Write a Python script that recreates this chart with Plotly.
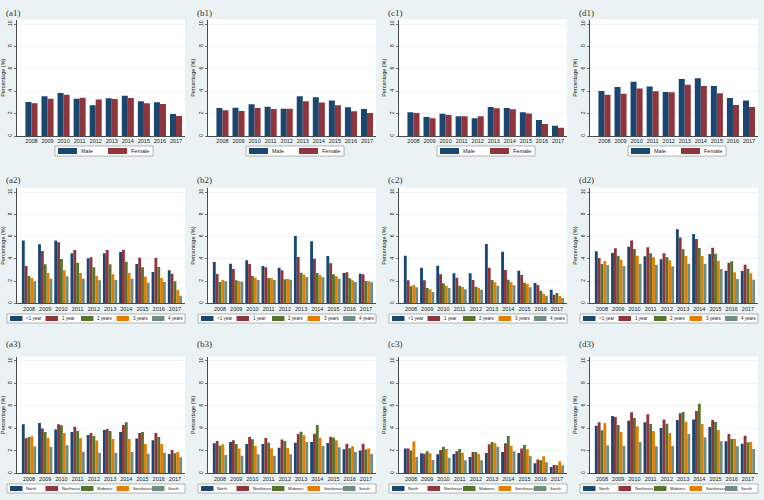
import plotly.graph_objects as go

W, H = 764, 500

years = [2008, 2009, 2010, 2011, 2012, 2013, 2014, 2015, 2016, 2017]

sex_labels = ["Male", "Female"]
age_labels = ["<1 year", "1 year", "2 years", "3 years", "4 years"]
region_labels = ["North", "Northeast", "Midwest", "Southeast", "South"]

# Row 1: by sex
a1_male = [3.04, 3.54, 3.84, 3.33, 2.74, 3.36, 3.60, 3.10, 3.01, 1.96]
a1_female = [2.92, 3.33, 3.69, 3.42, 3.27, 3.30, 3.39, 2.92, 2.86, 1.79]
b1_male = [2.50, 2.53, 2.83, 2.62, 2.44, 3.54, 3.45, 3.18, 2.56, 2.41]
b1_female = [2.29, 2.23, 2.50, 2.41, 2.44, 3.10, 2.98, 2.74, 2.20, 2.05]
c1_male = [2.11, 1.70, 1.99, 1.76, 1.58, 2.59, 2.50, 2.11, 1.43, 0.92]
c1_female = [2.05, 1.58, 1.88, 1.76, 1.76, 2.47, 2.38, 2.02, 1.07, 0.74]
d1_male = [4.02, 4.38, 4.85, 4.43, 3.93, 5.09, 5.15, 4.46, 3.39, 3.18]
d1_female = [3.69, 3.78, 4.23, 3.99, 3.90, 4.58, 4.46, 3.81, 2.77, 2.59]

# Row 2: by age
a2_lt1 = [5.65, 5.32, 5.65, 4.50, 4.05, 4.50, 4.62, 3.54, 2.82, 2.97]
a2_1y = [3.36, 4.71, 5.50, 4.80, 4.14, 4.80, 4.83, 4.11, 4.08, 2.67]
a2_2y = [2.46, 3.51, 4.00, 3.66, 3.24, 3.51, 3.75, 3.24, 3.27, 1.98]
a2_3y = [2.28, 2.73, 2.97, 2.73, 2.49, 2.61, 2.73, 2.40, 2.28, 1.20]
a2_4y = [1.98, 2.22, 2.43, 2.22, 2.07, 2.10, 2.22, 1.86, 1.92, 0.69]

b2_lt1 = [3.72, 3.57, 3.87, 3.36, 3.21, 6.07, 5.59, 4.26, 2.73, 2.67]
b2_1y = [2.64, 3.09, 3.54, 3.24, 2.97, 4.17, 4.02, 3.60, 2.79, 2.61]
b2_2y = [1.92, 2.07, 2.46, 2.28, 2.16, 2.76, 2.73, 2.61, 2.25, 2.01]
b2_3y = [2.10, 2.01, 2.31, 2.25, 2.19, 2.58, 2.52, 2.43, 2.07, 1.98]
b2_4y = [1.98, 1.95, 2.10, 2.10, 2.13, 2.37, 2.34, 2.22, 1.92, 1.89]

c2_lt1 = [4.29, 3.21, 3.39, 2.70, 2.70, 5.35, 4.65, 2.94, 1.83, 1.23]
c2_1y = [2.07, 2.07, 2.61, 2.31, 2.10, 3.21, 3.00, 2.55, 1.65, 0.78]
c2_2y = [1.53, 1.38, 1.80, 1.59, 1.50, 2.10, 2.13, 1.86, 1.14, 0.93]
c2_3y = [1.65, 1.26, 1.59, 1.47, 1.41, 1.89, 1.89, 1.74, 0.87, 0.66]
c2_4y = [1.44, 1.02, 1.38, 1.26, 1.23, 1.59, 1.62, 1.44, 0.69, 0.48]

d2_lt1 = [4.68, 4.53, 5.10, 4.23, 3.96, 6.67, 6.25, 4.44, 2.94, 2.91]
d2_1y = [4.08, 4.95, 5.65, 5.04, 4.50, 5.92, 5.80, 5.01, 3.66, 3.48]
d2_2y = [3.54, 4.29, 4.89, 4.50, 4.17, 4.86, 4.98, 4.47, 3.78, 3.12]
d2_3y = [3.81, 3.93, 4.29, 4.14, 3.87, 4.26, 4.26, 3.84, 2.79, 2.70]
d2_4y = [3.45, 3.36, 3.57, 3.48, 3.33, 3.57, 3.57, 3.09, 2.19, 2.13]

# Row 3: by region
a3_north = [4.36, 4.48, 3.89, 3.68, 3.41, 3.86, 3.68, 3.09, 2.94, 1.72]
a3_northeast = [3.12, 4.00, 4.36, 4.15, 3.59, 3.95, 4.30, 3.59, 3.59, 2.08]
a3_midwest = [3.23, 3.68, 4.27, 3.76, 3.32, 3.76, 4.54, 3.68, 3.23, 1.78]
a3_southeast = [3.29, 3.15, 3.59, 3.12, 2.91, 3.06, 3.06, 2.61, 2.61, 1.90]
a3_south = [2.40, 2.34, 2.49, 1.93, 1.84, 1.84, 1.90, 1.75, 1.84, 1.42]

b3_north = [2.67, 2.79, 2.61, 2.61, 2.28, 2.73, 2.79, 2.70, 2.14, 2.02]
b3_northeast = [2.88, 2.94, 3.23, 3.15, 3.00, 3.50, 3.53, 3.26, 2.64, 2.64]
b3_midwest = [2.46, 2.61, 3.03, 2.73, 2.88, 3.71, 4.30, 3.18, 2.23, 2.11]
b3_southeast = [2.58, 2.20, 2.43, 2.23, 2.26, 3.38, 3.15, 2.94, 2.40, 2.20]
b3_south = [1.63, 1.57, 1.69, 1.57, 1.69, 2.79, 2.43, 2.31, 1.90, 1.72]

c3_north = [2.20, 1.78, 1.69, 1.72, 1.45, 1.81, 1.90, 1.81, 0.89, 0.56]
c3_northeast = [2.20, 1.75, 2.08, 1.96, 1.90, 2.58, 2.67, 2.20, 1.22, 0.74]
c3_midwest = [2.02, 1.96, 2.37, 2.17, 1.90, 2.79, 3.32, 2.52, 1.16, 0.71]
c3_southeast = [2.85, 1.78, 2.17, 1.84, 1.72, 2.70, 2.46, 2.14, 1.51, 1.07]
c3_south = [1.45, 1.19, 1.39, 1.16, 1.16, 2.37, 1.96, 1.54, 0.98, 0.71]

d3_north = [4.24, 5.10, 4.69, 4.54, 4.04, 4.75, 4.78, 4.12, 2.85, 2.64]
d3_northeast = [4.54, 5.01, 5.43, 5.25, 4.78, 5.34, 5.55, 4.75, 3.50, 3.35]
d3_midwest = [3.83, 4.30, 4.93, 4.39, 4.42, 5.46, 6.20, 4.57, 3.06, 2.76]
d3_southeast = [4.45, 3.68, 4.18, 3.77, 3.59, 4.60, 4.39, 3.86, 3.06, 2.79]
d3_south = [2.49, 2.43, 2.79, 2.40, 2.43, 3.50, 3.20, 2.85, 2.40, 2.17]

panel_labels = [["(a1)", "(b1)", "(c1)", "(d1)"],
                ["(a2)", "(b2)", "(c2)", "(d2)"],
                ["(a3)", "(b3)", "(c3)", "(d3)"]]

panels = [
    [[a1_male, a1_female], [b1_male, b1_female], [c1_male, c1_female], [d1_male, d1_female]],
    [[a2_lt1, a2_1y, a2_2y, a2_3y, a2_4y], [b2_lt1, b2_1y, b2_2y, b2_3y, b2_4y],
     [c2_lt1, c2_1y, c2_2y, c2_3y, c2_4y], [d2_lt1, d2_1y, d2_2y, d2_3y, d2_4y]],
    [[a3_north, a3_northeast, a3_midwest, a3_southeast, a3_south],
     [b3_north, b3_northeast, b3_midwest, b3_southeast, b3_south],
     [c3_north, c3_northeast, c3_midwest, c3_southeast, c3_south],
     [d3_north, d3_northeast, d3_midwest, d3_southeast, d3_south]],
]
row_series_names = [sex_labels, age_labels, region_labels]

colors = ["#1a476f", "#90353b", "#55752f", "#e37e00", "#6e8e84"]
BG = "#eaf2f3"

# pixel geometry
col_off = [0, 191, 382, 573]
plot_l, plot_r = 17, 185
rows_geo = [
    dict(zero=136.0, ten=24.0, label_y=13, leg=(146, 156), xr=(-0.9, 9.56), group=0.75),
    dict(zero=303.3, ten=192.3, label_y=180, leg=(314, 323), xr=(-0.74, 9.62), group=0.88),
    dict(zero=473.3, ten=361.0, label_y=344, leg=(484, 493), xr=(-0.74, 9.62), group=0.88),
]
YMAX = 10.4


def fx(px):
    return px / W


def fy(py):
    return 1 - py / H


fig = go.Figure()
shapes = []
annotations = []
layout_axes = {}

idx = 0
for r in range(3):
    g = rows_geo[r]
    ppu = (g["zero"] - g["ten"]) / 10.0
    top = g["zero"] - YMAX * ppu
    names = row_series_names[r]
    nser = len(names)
    bw = g["group"] / nser
    for c in range(4):
        idx += 1
        xa = "x" if idx == 1 else f"x{idx}"
        ya = "y" if idx == 1 else f"y{idx}"
        xkey = "xaxis" if idx == 1 else f"xaxis{idx}"
        ykey = "yaxis" if idx == 1 else f"yaxis{idx}"
        x0 = col_off[c] + plot_l
        x1 = col_off[c] + plot_r
        xpos = list(range(len(years)))
        for s in range(nser):
            fig.add_trace(go.Bar(
                x=xpos, y=panels[r][c][s], name=names[s],
                marker=dict(color=colors[s], line=dict(width=0)),
                width=bw, offset=-g["group"] / 2 + s * bw,
                xaxis=xa, yaxis=ya, showlegend=False,
            ))
        layout_axes[xkey] = dict(
            domain=[fx(x0), fx(x1)], anchor=ya, range=list(g["xr"]),
            tickmode="array", tickvals=xpos, ticktext=[str(y) for y in years],
            tickfont=dict(size=5.5, color="#222"), ticks="", showgrid=False,
            showline=True, linecolor="#222", linewidth=0.8, zeroline=False,
            fixedrange=True,
        )
        layout_axes[ykey] = dict(
            domain=[fy(g["zero"]), fy(top)], anchor=xa, range=[0, YMAX],
            tickmode="array", tickvals=[0, 2, 4, 6, 8, 10],
            tickangle=-90, tickfont=dict(size=5, color="#222"),
            ticks="outside", ticklen=2, tickcolor="#222", tickwidth=0.6,
            showgrid=True, gridcolor="#e6eef0", gridwidth=0.6,
            showline=True, linecolor="#222", linewidth=0.8, zeroline=False,
            title=dict(text="Percentage (%)", font=dict(size=5.5, color="#222"), standoff=2),
            fixedrange=True,
        )
        # plot area background
        shapes.append(dict(type="rect", xref="paper", yref="paper", layer="below",
                           x0=fx(x0), x1=fx(x1), y0=fy(g["zero"]), y1=fy(top),
                           fillcolor="white", line=dict(width=0)))
        # panel label
        annotations.append(dict(text=panel_labels[r][c], xref="paper", yref="paper",
                                x=fx(col_off[c] + 4), y=fy(g["label_y"]),
                                xanchor="left", yanchor="middle", showarrow=False,
                                font=dict(size=9, color="#333", family="Liberation Serif")))
        # legend (manual, Stata style)
        ly0, ly1 = g["leg"]
        lmid = (ly0 + ly1) / 2
        if nser == 2:
            bx0, bx1 = col_off[c] + 55, col_off[c] + 153
            starts = [58, 108]
            sw = 19
            sh = 3
            lfs = 5.5
        else:
            bx0, bx1 = col_off[c] + 7, col_off[c] + 185
            starts = [10, 45.5, 81, 116.5, 152]
            sw = 12.5
            sh = 2.5
            lfs = 4.5 if r == 1 else 4.2
        shapes.append(dict(type="rect", xref="paper", yref="paper",
                           x0=fx(bx0), x1=fx(bx1), y0=fy(ly1), y1=fy(ly0),
                           fillcolor="white", line=dict(color="#888", width=0.6)))
        for s in range(nser):
            sx = col_off[c] + starts[s]
            shapes.append(dict(type="rect", xref="paper", yref="paper",
                               x0=fx(sx), x1=fx(sx + sw), y0=fy(lmid + sh), y1=fy(lmid - sh),
                               fillcolor=colors[s], line=dict(width=0)))
            annotations.append(dict(text=names[s], xref="paper", yref="paper",
                                    x=fx(sx + sw + 1.5), y=fy(lmid), xanchor="left",
                                    yanchor="middle", showarrow=False,
                                    font=dict(size=lfs, color="#222")))

fig.update_layout(
    width=W, height=H, margin=dict(l=0, r=0, t=0, b=0),
    paper_bgcolor=BG, plot_bgcolor="rgba(0,0,0,0)",
    barmode="overlay", showlegend=False, hovermode=False,
    font=dict(family="Liberation Sans, Arial, sans-serif", color="#222"),
    shapes=shapes, annotations=annotations,
    **layout_axes,
)

fig.write_html(
    "out.html",
    config={"displayModeBar": False, "staticPlot": True},
    post_script="document.body.style.margin='0';document.body.style.padding='0';document.body.style.overflow='hidden';",
)
